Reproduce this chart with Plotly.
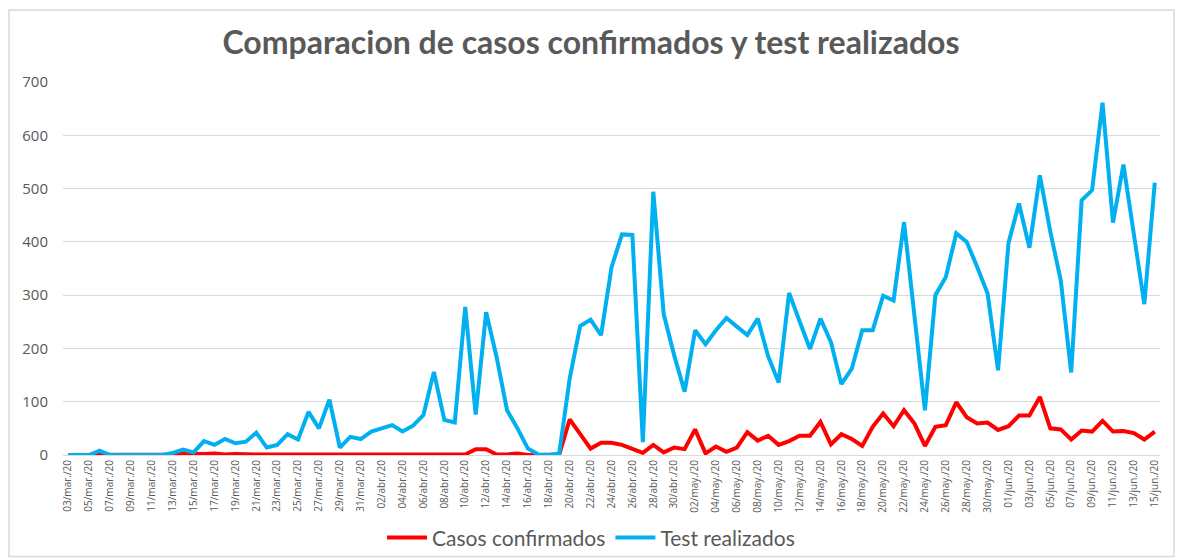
import plotly.graph_objects as go
import datetime as dt

# Dates: 03/mar/20 .. 15/jun/20 (daily)
start = dt.date(2020, 3, 3)
n_days = 105
month_abbr = {3: "mar.", 4: "abr.", 5: "may.", 6: "jun."}
dates = [start + dt.timedelta(days=i) for i in range(n_days)]
date_labels = [f"{d.day:02d}/{month_abbr[d.month]}/20" for d in dates]

casos_confirmados = [
    0, 0, 0, 1, 0, 0, 0, 0, 0, 0,
    1, 3, 2, 2, 3, 1, 2, 1, 1, 1,
    1, 1, 2, 1, 1, 1, 2, 1, 1, 1,
    1, 1, 1, 1, 1, 1, 1, 2, 1, 11,
    11, 1, 1, 3, 0, 0, 0, 1, 67, 40,
    12, 23, 23, 19, 11, 4, 19, 5, 14, 11,
    48, 3, 16, 6, 14, 43, 27, 36, 19, 26,
    36, 36, 62, 20, 39, 30, 17, 53, 78, 54,
    84, 59, 17, 53, 56, 99, 71, 59, 61, 47,
    54, 74, 74, 109, 50, 48, 29, 46, 44, 64,
    44, 45, 41, 29, 44,
]

test_realizados = [
    0, 0, 0, 8, 0, 0, 0, 0, 0, 0,
    4, 10, 5, 26, 19, 30, 22, 25, 42, 14,
    19, 39, 29, 81, 50, 104, 14, 34, 30, 44,
    50, 56, 44, 55, 75, 156, 66, 61, 278, 76,
    268, 184, 84, 50, 12, 1, 0, 3, 144, 242,
    254, 225, 352, 414, 413, 24, 494, 264, 187, 119,
    234, 208, 234, 257, 241, 225, 256, 185, 136, 304,
    251, 199, 256, 212, 133, 162, 234, 234, 299, 290,
    437, 265, 84, 300, 334, 416, 400, 353, 303, 159,
    398, 472, 389, 525, 419, 328, 155, 478, 497, 661,
    436, 545, 413, 283, 511,
]

x_idx = list(range(n_days))
tick_idx = x_idx[::2]
tick_text = date_labels[::2]

gray_text = "#595959"
font_family = "Lato, 'Open Sans', sans-serif"

fig = go.Figure()
fig.add_trace(go.Scatter(
    x=x_idx, y=casos_confirmados, mode="lines", name="Casos confirmados",
    line=dict(color="#FF0000", width=4), customdata=date_labels,
    hovertemplate="%{customdata}: %{y}<extra>Casos confirmados</extra>",
))
fig.add_trace(go.Scatter(
    x=x_idx, y=test_realizados, mode="lines", name="Test realizados",
    line=dict(color="#00B0F0", width=4), customdata=date_labels,
    hovertemplate="%{customdata}: %{y}<extra>Test realizados</extra>",
))

fig.update_layout(
    width=1182, height=560,
    margin=dict(l=63, r=22, t=82, b=105, autoexpand=False),
    paper_bgcolor="white", plot_bgcolor="white",
    title=dict(
        text="<b>Comparacion de casos confirmados y test realizados</b>",
        x=0.5, xanchor="center", xref="container",
        y=1 - 43 / 560, yref="container", yanchor="middle",
        font=dict(family=font_family, size=32, color=gray_text),
    ),
    font=dict(family=font_family, color=gray_text),
    legend=dict(
        orientation="h", x=0.5, xanchor="center", xref="container",
        y=-0.222, yanchor="middle",
        font=dict(size=21, color=gray_text), itemwidth=40,
        bgcolor="rgba(0,0,0,0)",
    ),
    shapes=[dict(
        type="rect", xref="paper", yref="paper",
        x0=-0.0492, x1=1.0127, y0=-0.272, y1=1.193,
        line=dict(color="#D9D9D9", width=1.5), layer="below",
    )],
    showlegend=True,
)

fig.update_xaxes(
    range=[-0.5, n_days - 0.5], automargin=False,
    tickmode="array", tickvals=tick_idx, ticktext=tick_text,
    tickangle=-90, tickfont=dict(family="'Open Sans', sans-serif", size=10, color=gray_text),
    showgrid=False, zeroline=False,
    showline=True, linecolor="#D9D9D9", linewidth=1,
    ticks="", fixedrange=True,
)
fig.update_yaxes(
    range=[0, 700], tickvals=[0, 100, 200, 300, 400, 500, 600, 700], automargin=False,
    tickfont=dict(family="'Open Sans', sans-serif", size=15, color=gray_text),
    showgrid=True, gridcolor="#D9D9D9", gridwidth=1,
    zeroline=False, showline=False, ticks="", ticklabelstandoff=14,
    fixedrange=True,
)

fig.write_html(
    "out.html",
    config={"displayModeBar": False},
    post_script="document.body.style.margin='0';",
)
